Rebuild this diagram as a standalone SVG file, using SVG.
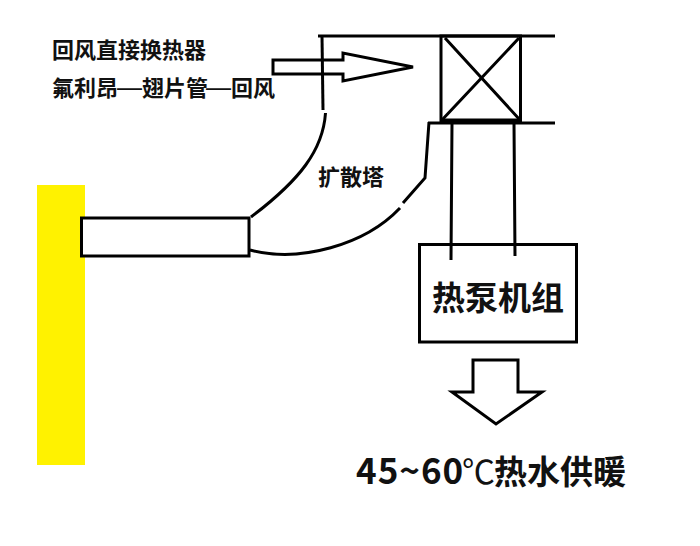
<svg xmlns="http://www.w3.org/2000/svg" width="700" height="546" viewBox="0 0 700 546">
<style>
.l{fill:none;stroke:#000;stroke-width:3;stroke-linejoin:miter}
.t{font-family:"Noto Sans CJK SC","Liberation Sans",sans-serif;font-weight:700;fill:#111}
.d{font-family:"Liberation Sans",sans-serif;font-weight:400}
</style>
<rect width="700" height="546" fill="#fff"/>
<g id="wall"><rect x="37" y="185" width="48" height="280" fill="#fff200"/></g>
<g id="duct"><rect x="81.500" y="218" width="167.500" height="38" fill="#fff" stroke="#000" stroke-width="3"/></g>
<g id="connectors">
<path d="M318 36H555M428 123H555" class="l"/>
<path d="M322 36L323 110" class="l"/>
<path d="M325.500 113C323 150 300 180 251 217" class="l"/>
<path d="M429 122L425 178L403 203" class="l"/>
<path d="M400 208C365 245 300 263 250 250" class="l"/>
<path d="M452 123L451 260M514 123L515 256" class="l"/>
</g>
<g id="exchanger">
<rect x="441" y="36" width="79.500" height="85" class="l"/>
<path d="M445 38L520 120M519 38L441 121" class="l"/>
<path d="M440 120.500H521" fill="none" stroke="#000" stroke-width="4"/>
</g>
<g id="heatpump"><rect x="419.500" y="244.500" width="157" height="97.500" class="l"/>
<text x="498" y="310" class="t" font-size="33" text-anchor="middle">热泵机组</text></g>
<g id="arrow-in"><path d="M273 60H343V53L413 67L343 81V74H273Z" class="l"/></g>
<g id="arrow-out"><path d="M473 360H518V392H542L496 424L452 392H473Z" class="l" fill="#fff"/></g>
<g id="labels">
<text x="52" y="58" class="t" font-size="22">回风直接换热器</text>
<text x="52" y="96" class="t" font-size="22">氟利昂<tspan x="117" class="d" font-size="25">—</tspan><tspan x="142">翅片管</tspan><tspan x="206" class="d" font-size="25">—</tspan><tspan x="231">回风</tspan></text>
<text x="318" y="185" class="t" font-size="22">扩散塔</text>
<text x="356" y="484" class="t" font-size="35" letter-spacing="1">45~60<tspan x="462" font-size="33" font-weight="400" letter-spacing="0">℃</tspan><tspan x="494" font-size="33" letter-spacing="0">热水供暖</tspan></text>
</g>
</svg>
